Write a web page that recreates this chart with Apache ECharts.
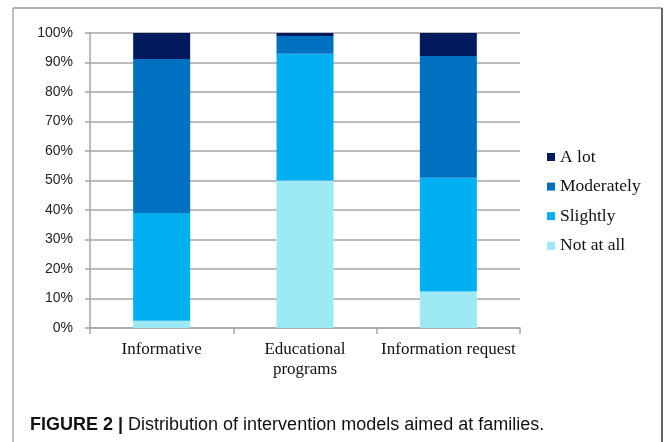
<!DOCTYPE html>
<html>
<head>
<meta charset="utf-8">
<script src="https://cdn.jsdelivr.net/npm/echarts@6/dist/echarts.min.js"></script>
<style>
html,body{margin:0;padding:0;background:#fff;}
#c{width:665px;height:442px;}
</style>
</head>
<body>
<div id="c"></div>
<script>
var categories = ['Informative', 'Educational programs', 'Information request'];
var notAtAll = [2.5, 50, 12.4];
var slightly = [36.5, 43, 38.5];
var moderately = [52.2, 6, 41.3];
var aLot = [8.8, 1, 7.8];
var yTicks = [0, 10, 20, 30, 40, 50, 60, 70, 80, 90, 100];
var legendOrder = ['A lot', 'Moderately', 'Slightly', 'Not at all'];

var chart = echarts.init(document.getElementById('c'), null, {renderer: 'canvas'});
var gridCol = '#a6a6a6';
function bar(name, data, color) {
  return {
    name: name, type: 'bar', stack: 'total', data: data, barWidth: 57,
    itemStyle: {color: color}, emphasis: {disabled: true}
  };
}
chart.setOption({
  animation: false,
  backgroundColor: '#fff',
  grid: {left: 90, right: 145, top: 33, bottom: 114},
  legend: {
    orient: 'vertical', left: 547, top: 147, padding: 0,
    data: legendOrder,
    icon: 'rect', itemWidth: 8, itemHeight: 8, itemGap: 9.6,
    textStyle: {fontFamily: 'Liberation Serif', fontSize: 17.5, color: '#111', lineHeight: 20}
  },
  xAxis: {
    type: 'category', data: categories,
    axisLine: {lineStyle: {color: gridCol, width: 1.5}},
    axisTick: {show: true, length: 6, lineStyle: {color: gridCol, width: 1.5}},
    axisLabel: {
      fontFamily: 'Liberation Serif', fontSize: 17, color: '#111', margin: 12, lineHeight: 20,
      interval: 0,
      formatter: function (v) { return v === 'Educational programs' ? 'Educational\nprograms' : v; }
    }
  },
  yAxis: {
    type: 'value', min: yTicks[0], max: yTicks[yTicks.length - 1], interval: 10,
    axisLine: {show: true, lineStyle: {color: gridCol, width: 1.5}},
    axisTick: {show: true, length: 5, lineStyle: {color: gridCol, width: 1.5}},
    splitLine: {lineStyle: {color: gridCol, width: 1.5}},
    axisLabel: {fontFamily: 'Liberation Sans', fontSize: 14, color: '#222', margin: 17, formatter: '{value}%'}
  },
  series: [
    bar('Not at all', notAtAll, '#9deaf5'),
    bar('Slightly', slightly, '#00b0f0'),
    bar('Moderately', moderately, '#0070c0'),
    bar('A lot', aLot, '#001a5e')
  ],
  graphic: [
    {type: 'line', shape: {x1: 13, y1: 8, x2: 662, y2: 8}, style: {stroke: '#999', lineWidth: 1.5}, silent: true},
    {type: 'line', shape: {x1: 13, y1: 8, x2: 13, y2: 442}, style: {stroke: '#aaa', lineWidth: 1.5}, silent: true},
    {type: 'line', shape: {x1: 662, y1: 8, x2: 662, y2: 442}, style: {stroke: '#666', lineWidth: 2}, silent: true},
    {
      type: 'text', left: 30, top: 416, silent: true,
      style: {
        text: '{b|FIGURE 2 |}{n| Distribution of intervention models aimed at families.}',
        rich: {
          b: {fontFamily: 'Liberation Sans', fontWeight: 'bold', fontSize: 18, fill: '#111'},
          n: {fontFamily: 'Liberation Sans', fontSize: 18, fill: '#111'}
        }
      }
    }
  ]
});
</script>
</body>
</html>
